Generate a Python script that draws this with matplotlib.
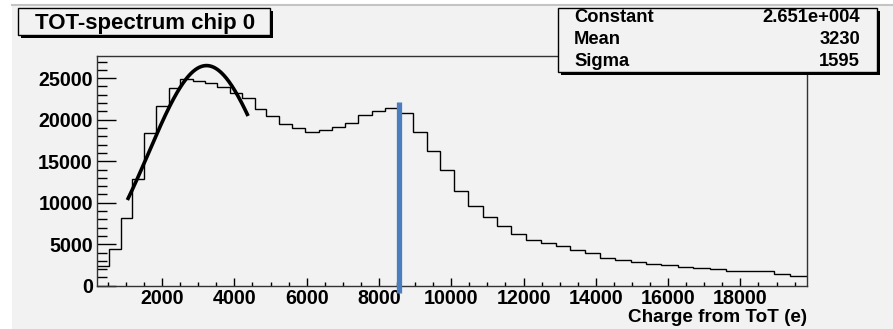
import numpy as np
import matplotlib
matplotlib.use("Agg")
import matplotlib.pyplot as plt
from matplotlib.patches import Rectangle
from matplotlib.ticker import MultipleLocator

plt.rcParams['font.family'] = ['Liberation Sans', 'DejaVu Sans']
plt.rcParams['font.weight'] = 'bold'

# histogram bin edges (charge, e) - variable width from ToT conversion
edges = [200, 526, 858, 1181, 1502, 1845, 2185, 2509, 2858, 3181, 3532,
         3873, 4213, 4564, 4888, 5237, 5607, 5967, 6343, 6703, 7062, 7422,
         7820, 8180, 8548, 8943, 9342, 9701, 10077, 10476, 10880, 11278,
         11665, 12061, 12495, 12899, 13286, 13707, 14127, 14542, 14965,
         15400, 15814, 16266, 16700, 17151, 17588, 18036, 18479, 18921,
         19378, 19842]
counts = [2400, 4410, 8140, 12860, 18430, 21670, 23760, 24880, 24640, 24440,
          23920, 23240, 22640, 21240, 20400, 19440, 18960, 18550, 18790,
          19150, 19560, 20520, 21080, 21380, 20850, 18550, 16260, 13910,
          11420, 9650, 8260, 7250, 6250, 5530, 5170, 4840, 4310, 3900, 3300,
          3130, 2880, 2660, 2470, 2300, 2160, 2000, 1770, 1770, 1770, 1380,
          1200]

# gaussian fit (stat box values)
fit_names = ["Constant", "Mean", "Sigma"]
fit_labels = ["2.651e+004", "3230", "1595"]
fit_const, fit_mean, fit_sigma = 26510, 3230, 1595
fit_range = (1040, 4380)

marker_x = 8550
marker_top = 22150

W, H = 893, 329
fig = plt.figure(figsize=(W / 100, H / 100), dpi=100)
fig.patch.set_facecolor('white')
bg = '#f2f2f2'


def fx(px):
    return px / W


def fy(py):
    return 1 - py / H


def box(x0, y0, x1, y1, fc=bg, shadow=3):
    fig.add_artist(Rectangle((fx(x0 + shadow), fy(y1 + shadow)),
                             fx(x1 - x0), (y1 - y0) / H,
                             transform=fig.transFigure, fc='black', ec='none'))
    fig.add_artist(Rectangle((fx(x0), fy(y1)), fx(x1 - x0), (y1 - y0) / H,
                             transform=fig.transFigure, fc=fc, ec='black', lw=1))


# pad background
fig.add_artist(Rectangle((fx(12), 0), fx(W - 12), fy(5),
                         transform=fig.transFigure, fc=bg, ec='none', zorder=-5))
fig.add_artist(plt.Line2D([fx(12), 1], [fy(5), fy(5)], transform=fig.transFigure,
                          color='#c4c4c4', lw=1.5, zorder=-4))

ax = fig.add_axes([fx(97), fy(285.8), fx(807 - 97), (285.8 - 55.7) / H])
ax.set_facecolor(bg)

ax.stairs(counts, edges, baseline=None, color='black', lw=1)

xf = np.linspace(fit_range[0], fit_range[1], 200)
yf = fit_const * np.exp(-0.5 * ((xf - fit_mean) / fit_sigma) ** 2)
ax.plot(xf, yf, color='black', lw=2.6, solid_capstyle='butt')

ax.plot([marker_x, marker_x], [marker_top, -900], color='#4a7ebf', lw=3.8,
        clip_on=False, solid_capstyle='butt', zorder=5)

ax.set_xlim(200, 19842)
ax.set_ylim(0, 27700)
ax.xaxis.set_major_locator(MultipleLocator(2000))
ax.xaxis.set_minor_locator(MultipleLocator(500))
ax.yaxis.set_major_locator(MultipleLocator(5000))
ax.yaxis.set_minor_locator(MultipleLocator(1000))
ax.tick_params(axis='x', which='major', direction='in', length=6, width=1,
               labelsize=14.2, pad=2, top=False)
ax.tick_params(axis='x', which='minor', direction='in', length=3, width=1, top=False)
ax.tick_params(axis='y', which='major', direction='in', length=14, width=1,
               labelsize=14.2, pad=3, right=False)
ax.tick_params(axis='y', which='minor', direction='in', length=7, width=1, right=False)
for lab in ax.get_xticklabels() + ax.get_yticklabels():
    lab.set_fontweight('bold')
for s in ax.spines.values():
    s.set_linewidth(1)
    s.set_color('#333333')

fig.text(fx(807), fy(318), "Charge from ToT (e)", ha='right', va='center',
         fontsize=13.6, fontweight='bold')

# title box
box(18, 8, 270, 35)
fig.text(fx(145), fy(23.5), "TOT-spectrum chip 0", ha='center', va='center',
         fontsize=16, fontweight='bold')

# stats box
box(558, 8, 877, 72)
for i, (n, v) in enumerate(zip(fit_names, fit_labels)):
    yy = 18 + 22 * i
    fig.text(fx(574), fy(yy), n, ha='left', va='center', fontsize=13.2,
             fontweight='bold')
    fig.text(fx(860), fy(yy), v, ha='right', va='center', fontsize=13.2,
             fontweight='bold')

fig.savefig('out.png', dpi=100, facecolor=fig.get_facecolor())
